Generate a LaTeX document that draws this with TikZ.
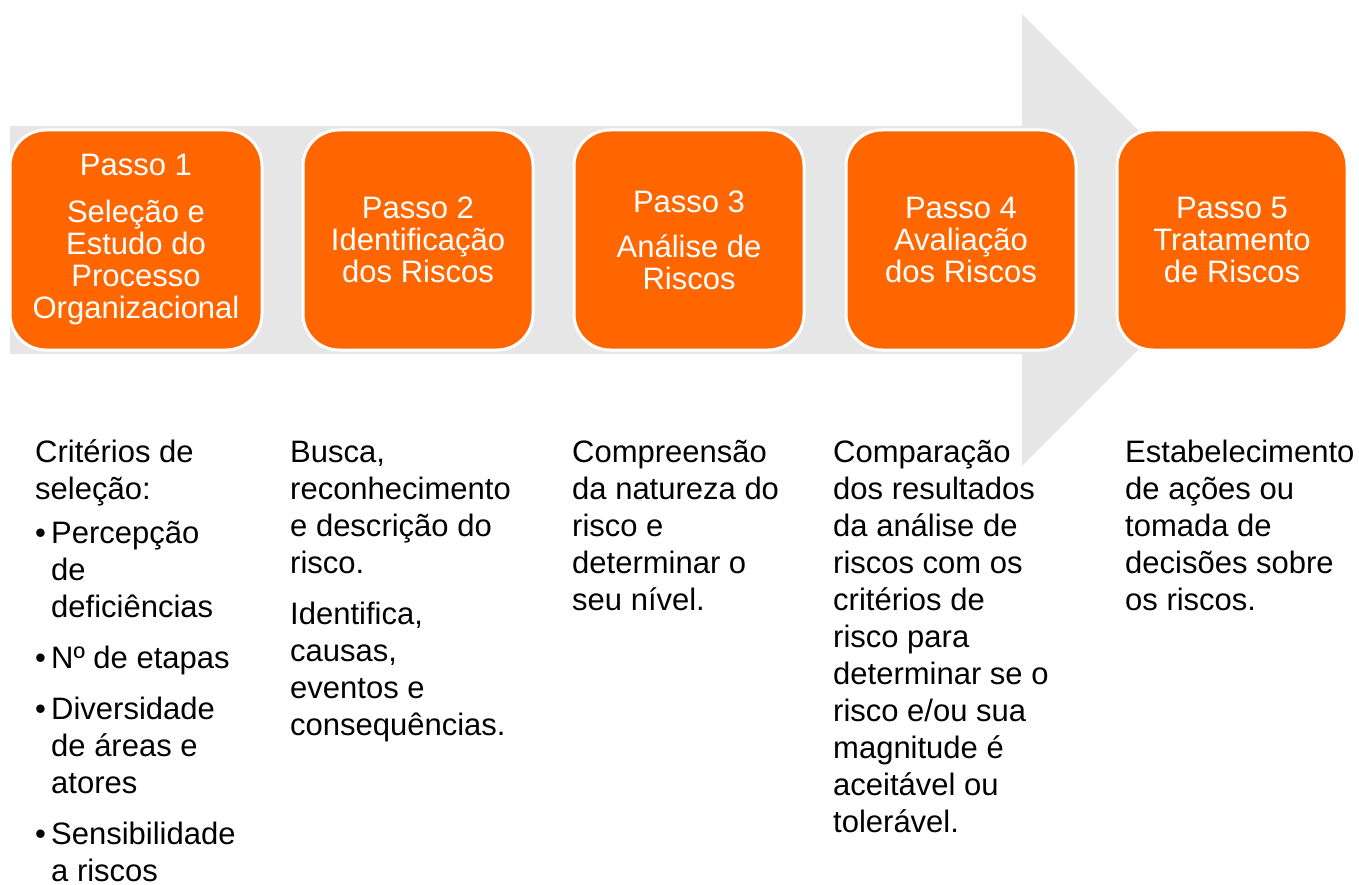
\documentclass[tikz,border=0pt]{standalone}
\usepackage{fontspec}
\setmainfont{Liberation Sans}
\usetikzlibrary{positioning}
\definecolor{stepOrange}{HTML}{FF6600}
\definecolor{arrowGray}{HTML}{E6E6E6}
\newcommand{\myBullet}{\makebox[16pt][l]{•}}
\newcommand{\myIndent}{\hspace*{16pt}}
\newcommand{\myArrow}{%%
  %% Draw the big grey arrow behind the steps.
  \fill[arrowStyle] (tailTop) -- (headTop) -- (headUp) -- (tip)
  -- (headDown) -- (headBottom) -- (tailBottom) -- cycle;
}

\begin{document}
\begin{tikzpicture}[%%
  x=1pt,y=-1pt,
  arrowStyle/.style={arrowGray},
  stepStyle/.style={draw=white,line width=3pt,fill=stepOrange,text=white,
    rounded corners=36pt,minimum width=230pt,minimum height=220pt,
    inner sep=0pt,align=center,font=\fontsize{31}{32}\selectfont},
  noteStyle/.style={anchor=north west,inner sep=0pt,align=left,
    font=\fontsize{31}{37}\selectfont}
]
%%
%%
\useasboundingbox (0,0) rectangle (1359,885);
\pgfmathsetmacro{\ymid}{240}
\pgfmathsetmacro{\ynote}{436}
%% Coordinates of the arrow.
\coordinate (tailTop) at (10,126);
\coordinate (headTop) at (1022,126);
\coordinate (headUp) at (1022,14);
\coordinate (tip) at (1248,\ymid);
\coordinate (headDown) at (1022,466);
\coordinate (headBottom) at (1022,354);
\coordinate (tailBottom) at (10,354);
\myArrow
%%
%% The five steps.
\node[stepStyle,minimum width=252pt] (step1) at (136,\ymid)
  {Passo 1\\[15pt]Seleção e\\Estudo do\\Processo\\Organizacional};
\node[stepStyle] (step2) at (418,\ymid) {Passo 2\\Identificação\\dos Riscos};
\node[stepStyle] (step3) at (689,\ymid) {Passo 3\\[13pt]Análise de\\Riscos};
\node[stepStyle] (step4) at (961,\ymid) {Passo 4\\Avaliação\\dos Riscos};
\node[stepStyle] (step5) at (1232,\ymid) {Passo 5\\Tratamento\\de Riscos};
%%
%% Notes under each step.
%% 1
\node[noteStyle] (note1) at (35,\ynote)
  {\strut Critérios de\\seleção:\\[7pt]
   \myBullet Percepção\\\myIndent de\\\myIndent deficiências\\[14pt]
   \myBullet Nº de etapas\\[14pt]
   \myBullet Diversidade\\\myIndent de áreas e\\\myIndent atores\\[14pt]
   \myBullet Sensibilidade\\\myIndent a riscos};
%% 2
\node[noteStyle] (note2) at (290,\ynote)
  {\strut Busca,\\reconhecimento\\e descrição do\\risco.\\[14pt]
   Identifica,\\causas,\\eventos e\\consequências.};
%% 3
\node[noteStyle] (note3) at (572,\ynote)
  {\strut Compreensão\\da natureza do\\risco e\\determinar o\\seu nível.};
%% 4
\node[noteStyle] (note4) at (833,\ynote)
  {\strut Comparação\\dos resultados\\da análise de\\riscos com os\\critérios de\\risco para\\determinar se o\\risco e/ou sua\\magnitude é\\aceitável ou\\tolerável.};
%% 5
\node[noteStyle] (note5) at (1125,\ynote)
  {\strut Estabelecimento\\de ações ou\\tomada de\\decisões sobre\\os riscos.};
\end{tikzpicture}
\end{document}
